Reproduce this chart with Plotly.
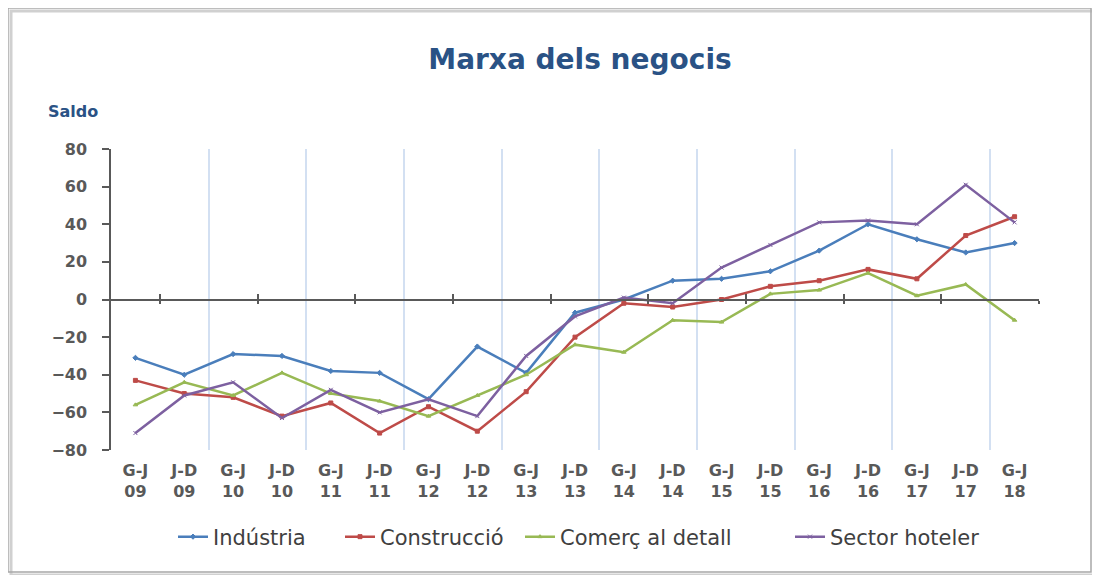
import plotly.graph_objects as go

categories = ["G-J<br>09", "J-D<br>09", "G-J<br>10", "J-D<br>10", "G-J<br>11", "J-D<br>11",
              "G-J<br>12", "J-D<br>12", "G-J<br>13", "J-D<br>13", "G-J<br>14", "J-D<br>14",
              "G-J<br>15", "J-D<br>15", "G-J<br>16", "J-D<br>16", "G-J<br>17", "J-D<br>17",
              "G-J<br>18"]
industria = [-31, -40, -29, -30, -38, -39, -53, -25, -39, -7, 0, 10, 11, 15, 26, 40, 32, 25, 30]
construccio = [-43, -50, -52, -62, -55, -71, -57, -70, -49, -20, -2, -4, 0, 7, 10, 16, 11, 34, 44]
comerc = [-56, -44, -51, -39, -50, -54, -62, -51, -40, -24, -28, -11, -12, 3, 5, 14, 2, 8, -11]
hoteler = [-71, -51, -44, -63, -48, -60, -53, -62, -30, -9, 1, -2, 17, 29, 41, 42, 40, 61, 41]
y_ticks = [80, 60, 40, 20, 0, -20, -40, -60, -80]

series = [
    ("Indústria", industria, "#4A7EBB", "diamond"),
    ("Construcció", construccio, "#BE4B48", "square"),
    ("Comerç al detall", comerc, "#98B954", "triangle-up"),
    ("Sector hoteler", hoteler, "#7D60A0", "x-thin-open"),
]
legend_ids = ["legend", "legend2", "legend3", "legend4"]
legend_start_px = [178, 345, 525, 795]

xs = list(range(len(categories)))
fig = go.Figure()
for (name, vals, color, sym), lid in zip(series, legend_ids):
    fig.add_trace(go.Scatter(
        x=xs, y=vals, name=name, mode="lines+markers", legend=lid,
        line=dict(color=color, width=2.5),
        marker=dict(symbol=sym, size=4, color=color, line=dict(color=color, width=1)),
    ))

# page body has an 8px margin: work in screen px and convert
OFF = 8
W, H = 1100 - 2 * OFF, 583 - 2 * OFF
L, R, T, B = 111 - OFF, 1039 - OFF, 149 - OFF, 450 - OFF


def px_x(p):
    return (p - OFF - L) / (R - L)


def px_y(p):
    return (B - (p - OFF)) / (B - T)


n = len(categories)
rng = [-0.5, n - 0.5]
axis_col = "#595959"
font = "DejaVu Sans"

legend_style = dict(orientation="h", xanchor="left", yanchor="middle",
                    font=dict(size=21, color="#404040", family=font),
                    itemwidth=30, bgcolor="rgba(0,0,0,0)", borderwidth=0)
legends = {}
for lid, sx in zip(legend_ids, legend_start_px):
    legends[lid] = dict(legend_style, x=px_x(sx - 5), y=px_y(537))

fig.update_layout(
    width=W, height=H,
    margin=dict(l=L, r=W - R, t=T, b=H - B, autoexpand=False),
    paper_bgcolor="white", plot_bgcolor="white",
    font=dict(family=font, color=axis_col),
    title=dict(text="<b>Marxa dels negocis</b>", x=px_x(580), xref="paper",
               xanchor="center", y=1 - (59 - OFF) / H, yanchor="middle",
               font=dict(size=28, color="#2A5285", family=font)),
    showlegend=True,
    **legends,
    xaxis=dict(range=rng, tickmode="array", tickvals=xs, ticktext=categories,
               showgrid=False, zeroline=False, showline=False, ticks="",
               tickfont=dict(size=16, color=axis_col, family=font, weight="bold"),
               tickangle=0, ticklabelstandoff=9),
    xaxis2=dict(overlaying="x", matches="x", anchor="free", position=0.5,
                range=rng, tickmode="array", tickvals=[i + 0.5 for i in range(0, n, 2)],
                showticklabels=False, showgrid=False, zeroline=False,
                showline=True, linecolor=axis_col, linewidth=1.5,
                ticks="inside", ticklen=5, tickwidth=1.5, tickcolor=axis_col),
    xaxis3=dict(overlaying="x", matches="x", anchor="free", position=0.5,
                range=rng, tickmode="array", tickvals=[i + 0.5 for i in range(0, n, 2)],
                showticklabels=False, showgrid=False, zeroline=False, showline=False,
                ticks="outside", ticklen=3, tickwidth=1.5, tickcolor=axis_col),
    xaxis4=dict(overlaying="x", matches="x", anchor="y",
                range=rng, tickmode="array", tickvals=[i + 1.5 for i in range(0, n - 2, 2)],
                showticklabels=False, showgrid=True, gridcolor="#D3E0F2", gridwidth=1.5,
                zeroline=False, showline=False, ticks=""),
    yaxis=dict(range=[-80, 80], tickmode="array", tickvals=y_ticks,
               showgrid=False, zeroline=False, showline=True, linecolor=axis_col,
               linewidth=1.5, ticks="outside", ticklen=7, tickwidth=1.5, tickcolor=axis_col,
               tickfont=dict(size=16, color=axis_col, family=font, weight="bold"),
               ticklabelstandoff=12),
)

# invisible traces to activate overlay axes
for ax in ["x2", "x3", "x4"]:
    fig.add_trace(go.Scatter(x=[None], y=[None], xaxis=ax, showlegend=False,
                             hoverinfo="skip"))

# y-axis caption
fig.add_annotation(text="<b>Saldo</b>", xref="paper", yref="paper",
                   x=px_x(46), y=px_y(111), xanchor="left",
                   yanchor="middle", showarrow=False,
                   font=dict(size=16, color="#2A5285", family=font))

# chart frame with shadow
fig.add_shape(type="rect", xref="paper", yref="paper",
              x0=px_x(11), x1=px_x(1094), y0=px_y(575), y1=px_y(11),
              line=dict(color="#D0D0D0", width=3), layer="below")
fig.add_shape(type="rect", xref="paper", yref="paper",
              x0=px_x(8), x1=px_x(1091), y0=px_y(572), y1=px_y(8),
              line=dict(color="#A8A8A8", width=1.5), layer="below")

fig.write_html("out.html")
